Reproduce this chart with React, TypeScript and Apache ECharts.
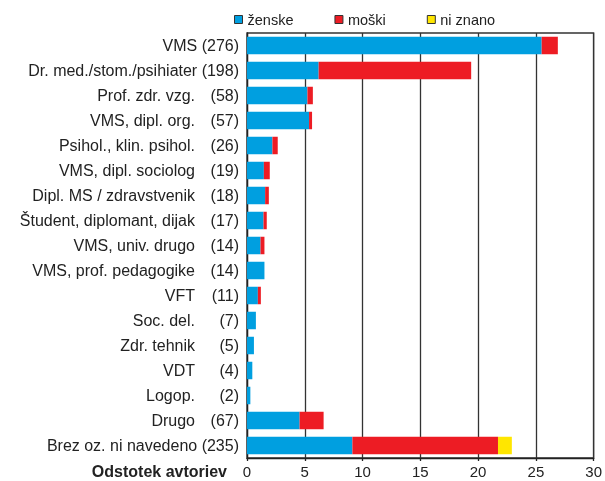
import React, { useEffect, useRef } from "react";
import * as echarts from "echarts";

const categoryNames = [
  "VMS (276)",
  "Dr. med./stom./psihiater (198)",
  "Prof. zdr. vzg.",
  "VMS, dipl. org.",
  "Psihol., klin. psihol.",
  "VMS, dipl. sociolog",
  "Dipl. MS / zdravstvenik",
  "Študent, diplomant, dijak",
  "VMS, univ. drugo",
  "VMS, prof. pedagogike",
  "VFT",
  "Soc. del.",
  "Zdr. tehnik",
  "VDT",
  "Logop.",
  "Drugo",
  "Brez oz. ni navedeno (235)",
];
const categoryCounts = [
  "", "", "(58)", "(57)", "(26)", "(19)", "(18)", "(17)", "(14)", "(14)",
  "(11)", "(7)", "(5)", "(4)", "(2)", "(67)", "",
];

const zenske = [25.5, 6.2, 5.23, 5.37, 2.2, 1.46, 1.57, 1.43, 1.17, 1.51, 0.94, 0.77, 0.6, 0.46, 0.29, 4.55, 9.12];
const moski = [1.4, 13.2, 0.47, 0.26, 0.46, 0.51, 0.32, 0.28, 0.34, 0, 0.26, 0, 0, 0, 0, 2.08, 12.6];
const niZnano = [0, 0, 0, 0, 0, 0, 0, 0, 0, 0, 0, 0, 0, 0, 0, 0, 1.2];

const xTicks = { min: 0, max: 30, interval: 5 };

const FONT = "'Liberation Sans', Arial, Helvetica, sans-serif";

export default function App() {
  const ref = useRef<HTMLDivElement>(null);
  useEffect(() => {
    if (!ref.current) return;
    const chart = echarts.init(ref.current, null, { renderer: "svg" });
    const mk = (name: string, data: number[], color: string) => ({
      name,
      type: "bar",
      stack: "total",
      data,
      barWidth: 17.5,
      itemStyle: { color },
      emphasis: { disabled: true },
    });
    chart.setOption({
      animation: false,
      textStyle: { fontFamily: FONT },
      legend: {
        top: 12,
        left: 234,
        padding: 0,
        itemWidth: 8,
        itemHeight: 8,
        itemGap: 41,
        icon: "rect",
        itemStyle: { borderColor: "#333", borderWidth: 1 },
        textStyle: { fontSize: 14.5, color: "#222", fontFamily: FONT },
        data: ["ženske", "moški", "ni znano"],
      },
      grid: {
        left: 247,
        right: 9,
        top: 33,
        bottom: 23,
        show: true,
        borderColor: "#333",
        borderWidth: 1.3,
        containLabel: false,
      },
      xAxis: {
        type: "value",
        min: xTicks.min,
        max: xTicks.max,
        interval: xTicks.interval,
        axisLine: { show: true, lineStyle: { color: "#222", width: 1.3 } },
        axisTick: { show: true, length: 3, lineStyle: { color: "#222", width: 1.3 } },
        splitLine: { show: true, lineStyle: { color: "#333", width: 1.3 } },
        axisLabel: { fontSize: 15, color: "#222", margin: 6, fontFamily: FONT },
      },
      yAxis: {
        type: "category",
        inverse: true,
        data: categoryNames,
        axisLine: { show: true, lineStyle: { color: "#222", width: 1.3 } },
        axisTick: { show: false },
        axisLabel: {
          margin: 8,
          fontSize: 16,
          color: "#222",
          fontFamily: FONT,
          formatter: (value: string, index: number) => {
            const c = categoryCounts[index];
            return c ? `{n|${value}}{c|${c}}` : `{n|${value}}`;
          },
          rich: {
            n: { fontSize: 16, color: "#222", fontFamily: FONT },
            c: { fontSize: 16, color: "#222", fontFamily: FONT, width: 44, align: "right" },
          },
        },
      },
      graphic: [
        {
          type: "text",
          x: 227,
          y: 471,
          style: {
            text: "Odstotek avtoriev",
            fontSize: 16,
            fontWeight: "bold",
            fill: "#222",
            fontFamily: FONT,
            align: "right",
            verticalAlign: "middle",
          },
        },
      ],
      series: [
        mk("ženske", zenske, "#009FE0"),
        mk("moški", moski, "#ED1C24"),
        mk("ni znano", niZnano, "#FFE600"),
      ],
    });
    return () => chart.dispose();
  }, []);
  return (
    <div
      ref={ref}
      style={{ position: "fixed", left: 0, top: 0, width: 605, height: 481 }}
    />
  );
}
